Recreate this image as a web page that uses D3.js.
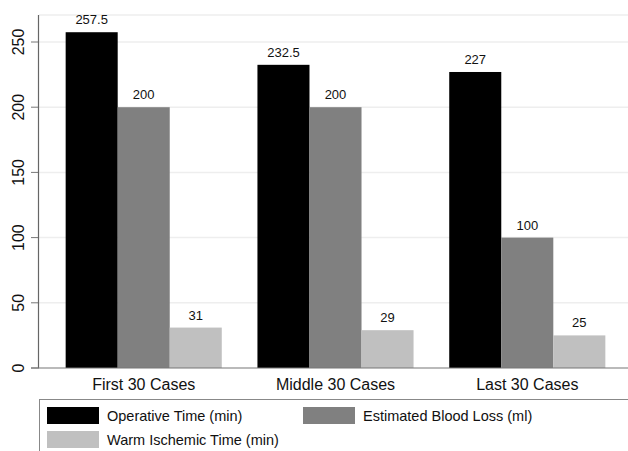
<!DOCTYPE html>
<html>
<head>
<meta charset="utf-8">
<script src="https://cdn.jsdelivr.net/npm/d3@7"></script>
<style>
  body { margin: 0; background: #fff; }
  svg { display: block; font-family: "Liberation Sans", Arial, sans-serif; }
</style>
</head>
<body>
<svg width="628" height="451"></svg>
<script>
// data
var groups = ['First 30 Cases', 'Middle 30 Cases', 'Last 30 Cases'];
var seriesNames = ['Operative Time (min)', 'Estimated Blood Loss (ml)', 'Warm Ischemic Time (min)'];
var operative = [257.5, 232.5, 227];
var bloodLoss = [200, 200, 100];
var ischemic = [31, 29, 25];
var yTicks = [0, 50, 100, 150, 200, 250];
var colors = ['#000000', '#808080', '#c0c0c0'];

var svg = d3.select('svg');
var width = 628, height = 451;
var margin = {top: 15, left: 39};
var plotBottom = 368;

var seriesValues = [operative, bloodLoss, ischemic];

var x = d3.scaleBand().domain(groups).range([margin.left, 632])
  .paddingInner(0.186).paddingOuter(0.139);
var xs = d3.scaleBand().domain(d3.range(3)).range([0, x.bandwidth()]);
var y = d3.scaleLinear().domain([0, 250]).range([plotBottom, 42]);

// grid lines
svg.append('g').selectAll('line')
  .data(yTicks.slice(1))
  .enter().append('line')
  .attr('x1', margin.left).attr('x2', width)
  .attr('y1', d => y(d)).attr('y2', d => y(d))
  .attr('stroke', '#eeeeee').attr('stroke-width', 1.5);
svg.append('line')
  .attr('x1', margin.left).attr('x2', width)
  .attr('y1', margin.top).attr('y2', margin.top)
  .attr('stroke', '#eeeeee').attr('stroke-width', 1.5);

// bars
var bars = [];
groups.forEach(function (g, gi) {
  seriesValues.forEach(function (vals, si) {
    bars.push({group: g, s: si, v: vals[gi]});
  });
});

svg.append('g').selectAll('rect')
  .data(bars)
  .enter().append('rect')
  .attr('x', d => x(d.group) + xs(d.s))
  .attr('width', xs.bandwidth())
  .attr('y', d => y(d.v))
  .attr('height', d => y(0) - y(d.v))
  .attr('fill', d => colors[d.s]);

svg.append('g').selectAll('text')
  .data(bars)
  .enter().append('text')
  .attr('x', d => x(d.group) + xs(d.s) + xs.bandwidth() / 2)
  .attr('y', d => y(d.v) - 8)
  .attr('text-anchor', 'middle')
  .style('font-size', '13px')
  .attr('fill', '#111')
  .text(d => d.v);

// y axis
var yAxis = d3.axisLeft(y).tickValues(yTicks).tickSize(8).tickSizeOuter(0);
var ga = svg.append('g').attr('transform', 'translate(' + margin.left + ',0)').call(yAxis);
ga.select('.domain').remove();
ga.selectAll('.tick line').attr('stroke', '#777');
ga.selectAll('.tick text')
  .attr('transform', function (d) { return 'translate(-15,' + y(d) + ') rotate(-90)'; })
  .attr('x', 0).attr('y', 0).attr('dy', 0)
  .attr('text-anchor', 'middle')
  .style('font-size', '16px')
  .style('font-family', '"Liberation Sans", Arial, sans-serif')
  .attr('fill', '#111');
ga.selectAll('.tick').attr('transform', null);
ga.selectAll('.tick line').attr('y1', d => y(d)).attr('y2', d => y(d));
svg.append('line')
  .attr('x1', margin.left - 0.5).attr('x2', margin.left - 0.5)
  .attr('y1', margin.top).attr('y2', plotBottom)
  .attr('stroke', '#666').attr('stroke-width', 1.2);

// x axis
svg.append('line')
  .attr('x1', margin.left - 8).attr('x2', width)
  .attr('y1', plotBottom).attr('y2', plotBottom)
  .attr('stroke', '#777').attr('stroke-width', 1.2);
svg.append('g').selectAll('text')
  .data(groups)
  .enter().append('text')
  .attr('x', d => x(d) + x.bandwidth() / 2)
  .attr('y', 390)
  .attr('text-anchor', 'middle')
  .style('font-size', '16px')
  .attr('fill', '#111')
  .text(d => d);

// legend
svg.append('rect')
  .attr('x', margin.left + 0.5).attr('y', 399.5)
  .attr('width', 600).attr('height', 80)
  .attr('fill', 'none').attr('stroke', '#888').attr('stroke-width', 1);

var legendPos = [[47, 407], [303, 407], [47, 431]];
var lg = svg.append('g').selectAll('g')
  .data(seriesNames)
  .enter().append('g')
  .attr('transform', (d, i) => 'translate(' + legendPos[i][0] + ',' + legendPos[i][1] + ')');
lg.append('rect')
  .attr('width', 52).attr('height', 17)
  .attr('fill', (d, i) => colors[i]);
lg.append('text')
  .attr('x', 60).attr('y', 14)
  .style('font-size', '14.5px')
  .attr('fill', '#111')
  .text(d => d);
</script>
</body>
</html>
